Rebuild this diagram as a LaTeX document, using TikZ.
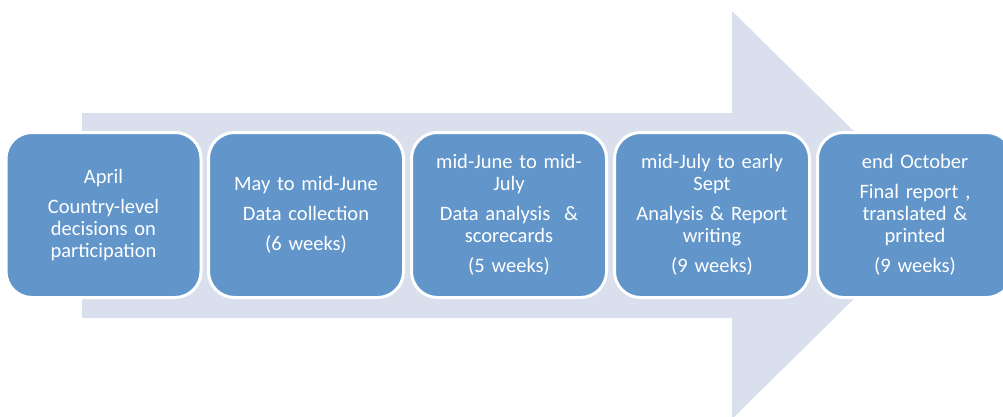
\documentclass[tikz,border=0pt]{standalone}
\usepackage{fontspec}
\setmainfont{Carlito}
\definecolor{boxblue}{RGB}{98,150,202}
\definecolor{arrowgray}{RGB}{218,223,237}
\begin{document}
\begin{tikzpicture}[x=1pt,y=-1pt,
  stage/.style={rectangle, rounded corners=26pt, fill=boxblue, draw=white,
    line width=3pt, minimum width=195pt, minimum height=165pt, inner sep=0pt,
    text width=185pt, align=center, text=white,
    font=\fontsize{20.5}{22}\selectfont}]
\useasboundingbox (0,0) rectangle (1003,416);
\clip (0,0) rectangle (1003,416);
\fill[arrowgray] (82,113) -- (732,113) -- (732,11) -- (939,215) -- (732,419)
  -- (732,318) -- (82,318) -- cycle;
\node[stage] (b1) at (103.5,215) {April\\[8pt]Country-level\\decisions on\\participation};
\node[stage] (b2) at (306,215) {May to mid-June\\[8pt]Data collection\\[8pt](6 weeks)};
\node[stage] (b3) at (509,215) {mid-June to mid-\\July\\[8pt]Data analysis~~\&\\scorecards\\[8pt](5 weeks)};
\node[stage] (b4) at (712,215) {mid-July to early\\Sept\\[8pt]Analysis \& Report\\writing\\[8pt](9 weeks)};
\node[stage] (b5) at (915,215) {end October\\[8pt]Final report ,\\translated \&\\printed\\[8pt](9 weeks)};
\end{tikzpicture}
\end{document}
